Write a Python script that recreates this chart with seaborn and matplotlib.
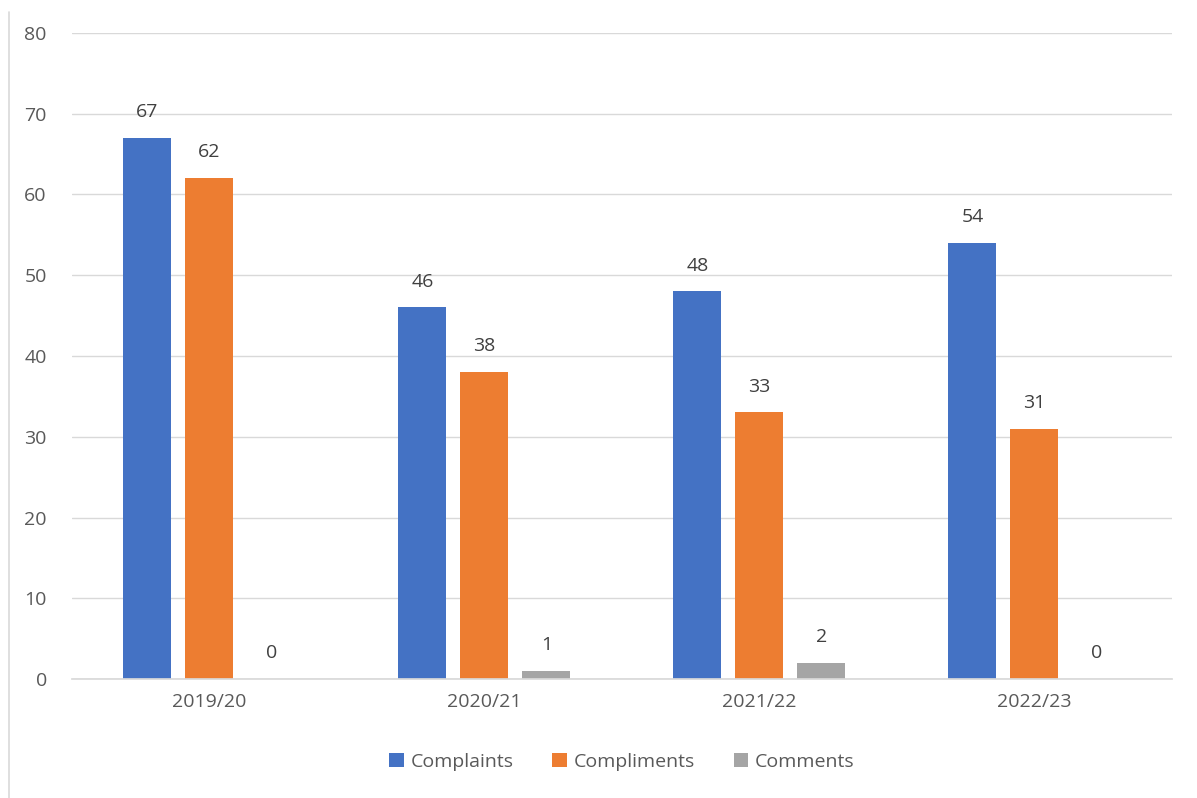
import numpy as np
import pandas as pd
import matplotlib
matplotlib.use("Agg")
import matplotlib.pyplot as plt
import seaborn as sns

years = ["2019/20", "2020/21", "2021/22", "2022/23"]
series = ["Complaints", "Compliments", "Comments"]
complaints = [67, 46, 48, 54]
compliments = [62, 38, 33, 31]
comments = [0, 1, 2, 0]
colors = ["#4472C4", "#ED7D31", "#A5A5A5"]

df = pd.DataFrame({
    "year": years * 3,
    "type": [s for s in series for _ in years],
    "count": complaints + compliments + comments,
})

sns.set_theme(style="white")
plt.rcParams["font.family"] = ["Open Sans", "DejaVu Sans"]
txt = "#595959"

fig = plt.figure(figsize=(11.97, 7.98), dpi=100)
ax = fig.add_axes([0.060, 0.149, 0.919, 0.810])

sns.barplot(data=df, x="year", y="count", hue="type", palette=colors,
            width=0.676, gap=0.226, saturation=1, linewidth=0,
            ax=ax, legend=True)

for c in ax.containers:
    ax.bar_label(c, padding=12, fontsize=14, color="#404040")

ax.set_ylim(0, 80)
ax.set_yticks(np.arange(0, 81, 10))
ax.yaxis.grid(True, color="#D9D9D9", linewidth=1)
ax.set_axisbelow(True)
for s in ["top", "right", "left"]:
    ax.spines[s].set_visible(False)
ax.spines["bottom"].set_color("#D9D9D9")
ax.tick_params(axis="both", labelsize=14, colors=txt, length=0, pad=10)
ax.tick_params(axis="y", pad=18)
ax.set_xlabel("")
ax.set_ylabel("")

ax.legend(loc="center", bbox_to_anchor=(0.5, -0.128), ncol=3, frameon=False,
          fontsize=14, labelcolor=txt, handlelength=0.75, handleheight=0.75,
          handletextpad=0.35, columnspacing=2.0)

# faint chart border on the left
fig.add_artist(plt.Line2D([0.0075, 0.0075], [0.0, 0.985], color="#D9D9D9", lw=1.2))

fig.savefig("out.png", dpi=100)
